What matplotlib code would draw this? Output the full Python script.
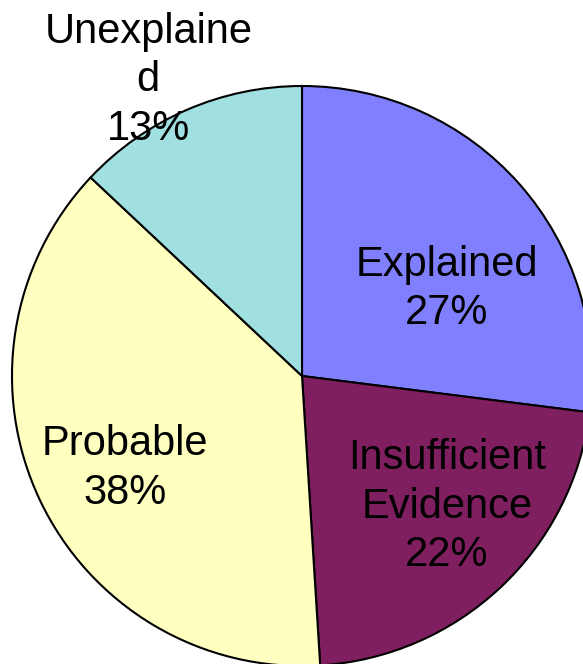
import matplotlib
matplotlib.use('Agg')
import matplotlib.pyplot as plt

labels = ['Explained', 'Insufficient\nEvidence', 'Probable', 'Unexplaine\nd']
shares = [27, 22, 38, 13]
colors = ['#8080FF', '#7F1F5F', '#FFFFC0', '#A0E0E0']
# label centres in axes data units (radius 1)
label_pos = [(0.50, 0.30), (0.50, -0.45), (-0.61, -0.32), (-0.53, 1.02)]

plt.rcParams['font.family'] = ['Liberation Sans', 'DejaVu Sans']

W, H = 583, 664
fig = plt.figure(figsize=(W / 100, H / 100), dpi=100)
R = 290
cx, cy = 302, 664 - 376
ax = fig.add_axes([(cx - R) / W, (cy - R) / H, 2 * R / W, 2 * R / H])

ax.pie(shares, colors=colors, startangle=90, counterclock=False,
       wedgeprops=dict(edgecolor='black', linewidth=1.5))
ax.set_xlim(-1, 1)
ax.set_ylim(-1, 1)
ax.set_aspect('equal')
ax.axis('off')

for lab, val, (x, y) in zip(labels, shares, label_pos):
    ax.text(x, y, f'{lab}\n{val}%', ha='center', va='center', fontsize=30,
            linespacing=1.28, clip_on=False)

fig.savefig('out.png', dpi=100)
